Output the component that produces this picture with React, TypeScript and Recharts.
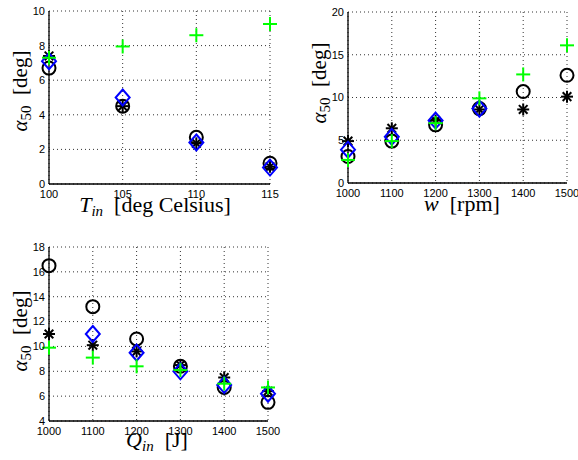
import React from 'react';
import { ScatterChart, Scatter, XAxis, YAxis, CartesianGrid, Label } from 'recharts';

// top left: inlet temperature
const tinValues = [100, 105, 110, 115];
const tinCircle = [6.7, 4.5, 2.7, 1.2];
const tinStar = [7.4, 4.5, 2.35, 1.0];
const tinDiamond = [7.1, 5.0, 2.4, 0.95];
const tinPlus = [7.3, 7.95, 8.6, 9.25];

// top right: engine speed
const wValues = [1000, 1100, 1200, 1300, 1400, 1500];
const wCircle = [3.1, 4.9, 6.8, 8.7, 10.7, 12.6];
const wStar = [4.9, 6.4, 7.3, 8.6, 8.6, 10.1];
const wDiamond = [3.9, 5.4, 7.3, 8.7, null, null];
const wPlus = [2.7, 4.9, 7.0, 9.9, 12.7, 16.1];

// bottom left: heat input
const qValues = [1000, 1100, 1200, 1300, 1400, 1500];
const qCircle = [16.5, 13.2, 10.6, 8.4, 6.7, 5.5];
const qStar = [11.0, 10.1, 9.6, 8.5, 7.5, 6.4];
const qDiamond = [null, 11.0, 9.5, 8.0, 6.9, 6.2];
const qPlus = [9.9, 9.1, 8.4, 8.1, 7.0, 6.7];

const toPoints = (xs: number[], ys: (number | null)[]) =>
  xs.map((x, i) => ({ x, y: ys[i] })).filter((p) => p.y !== null);

const OpenCircle = ({ cx, cy }: any) => (
  <circle cx={cx} cy={cy} r={6.5} fill="none" stroke="#000" strokeWidth={2} />
);

const Star = ({ cx, cy }: any) => {
  const r = 6;
  const d = r * 0.72;
  return (
    <g stroke="#000" strokeWidth={2}>
      <line x1={cx - r} y1={cy} x2={cx + r} y2={cy} />
      <line x1={cx} y1={cy - r} x2={cx} y2={cy + r} />
      <line x1={cx - d} y1={cy - d} x2={cx + d} y2={cy + d} />
      <line x1={cx - d} y1={cy + d} x2={cx + d} y2={cy - d} />
    </g>
  );
};

const Diamond = ({ cx, cy }: any) => (
  <path
    d={`M${cx},${cy - 8} L${cx + 7},${cy} L${cx},${cy + 8} L${cx - 7},${cy} Z`}
    fill="none"
    stroke="#0000ff"
    strokeWidth={2}
  />
);

const Plus = ({ cx, cy }: any) => (
  <g stroke="#00ff00" strokeWidth={2}>
    <line x1={cx - 7} y1={cy} x2={cx + 7} y2={cy} />
    <line x1={cx} y1={cy - 7} x2={cx} y2={cy + 7} />
  </g>
);

const serif = '"Liberation Serif", "Times New Roman", serif';
const tickStyle = { fill: '#000', fontSize: 11, fontFamily: '"Liberation Sans", Arial, sans-serif' };

const YTitle = ({ x, y }: { x: number; y: number }) => (
  <text x={x} y={y} transform={`rotate(-90 ${x} ${y})`} textAnchor="middle" fontFamily={serif} fontSize={21} fill="#000">
    <tspan fontStyle="italic">α</tspan>
    <tspan fontSize={15} dy={4}>50</tspan>
    <tspan dy={-4}>{'\u00a0\u00a0[deg]'}</tspan>
  </text>
);

const XTitle = ({ x, y, main, sub, rest }: { x: number; y: number; main: string; sub?: string; rest: string }) => (
  <text x={x} y={y} textAnchor="middle" fontFamily={serif} fontSize={22} fill="#000">
    <tspan fontStyle="italic">{main}</tspan>
    {sub ? (
      <tspan fontStyle="italic" fontSize={15} dy={4}>
        {sub}
      </tspan>
    ) : null}
    <tspan dy={sub ? -4 : 0}>{'\u00a0\u00a0' + rest}</tspan>
  </text>
);

interface PanelProps {
  left: number;
  top: number;
  width: number;
  height: number;
  marginTop: number;
  marginRight: number;
  yAxisWidth: number;
  xAxisHeight: number;
  xDomain: [number, number];
  xTicks: number[];
  yDomain: [number, number];
  yTicks: number[];
  xs: number[];
  circle: (number | null)[];
  star: (number | null)[];
  diamond: (number | null)[];
  plus: (number | null)[];
  xTitle: { x: number; y: number; main: string; sub?: string; rest: string };
  yTitle: { x: number; y: number };
}

const Panel = (p: PanelProps) => (
  <div style={{ position: 'absolute', left: p.left, top: p.top }}>
    <ScatterChart
      width={p.width}
      height={p.height}
      margin={{ top: p.marginTop, right: p.marginRight, bottom: 0, left: 0 }}
      style={{ overflow: 'visible' }}
    >
      <CartesianGrid stroke="#333" strokeDasharray="1 3" />
      <XAxis
        type="number"
        dataKey="x"
        domain={p.xDomain}
        ticks={p.xTicks}
        interval={0}
        height={p.xAxisHeight}
        axisLine={{ stroke: '#000', strokeWidth: 1.3 }}
        tickLine={false}
        tickSize={0}
        tickMargin={6}
        tick={tickStyle}
      >
        <Label content={() => <XTitle {...p.xTitle} />} />
      </XAxis>
      <YAxis
        type="number"
        dataKey="y"
        domain={p.yDomain}
        ticks={p.yTicks}
        interval={0}
        width={p.yAxisWidth}
        axisLine={{ stroke: '#000', strokeWidth: 1.3 }}
        tickLine={false}
        tickSize={0}
        tickMargin={4}
        tick={tickStyle}
      >
        <Label content={() => <YTitle {...p.yTitle} />} />
      </YAxis>
      <Scatter data={toPoints(p.xs, p.circle)} shape={(s: any) => <OpenCircle {...s} />} isAnimationActive={false} />
      <Scatter data={toPoints(p.xs, p.star)} shape={(s: any) => <Star {...s} />} isAnimationActive={false} />
      <Scatter data={toPoints(p.xs, p.diamond)} shape={(s: any) => <Diamond {...s} />} isAnimationActive={false} />
      <Scatter data={toPoints(p.xs, p.plus)} shape={(s: any) => <Plus {...s} />} isAnimationActive={false} />
    </ScatterChart>
  </div>
);

export default function App() {
  return (
    <div style={{ position: 'absolute', left: 0, top: 0, width: 578, height: 460, background: '#fff', overflow: 'hidden' }}>
      <Panel
        left={0}
        top={0}
        width={290}
        height={230}
        marginTop={11}
        marginRight={20}
        yAxisWidth={49}
        xAxisHeight={46}
        xDomain={[100, 115]}
        xTicks={tinValues}
        yDomain={[0, 10]}
        yTicks={[0, 2, 4, 6, 8, 10]}
        xs={tinValues}
        circle={tinCircle}
        star={tinStar}
        diamond={tinDiamond}
        plus={tinPlus}
        xTitle={{ x: 155, y: 212, main: 'T', sub: 'in', rest: '[deg Celsius]' }}
        yTitle={{ x: 27, y: 91 }}
      />
      <Panel
        left={290}
        top={0}
        width={288}
        height={230}
        marginTop={12}
        marginRight={11}
        yAxisWidth={58}
        xAxisHeight={47}
        xDomain={[1000, 1500]}
        xTicks={wValues}
        yDomain={[0, 20]}
        yTicks={[0, 5, 10, 15, 20]}
        xs={wValues}
        circle={wCircle}
        star={wStar}
        diamond={wDiamond}
        plus={wPlus}
        xTitle={{ x: 172, y: 211, main: 'w', rest: '[rpm]' }}
        yTitle={{ x: 36, y: 83 }}
      />
      <Panel
        left={0}
        top={230}
        width={290}
        height={230}
        marginTop={17}
        marginRight={22}
        yAxisWidth={49}
        xAxisHeight={39}
        xDomain={[1000, 1500]}
        xTicks={qValues}
        yDomain={[4, 18]}
        yTicks={[4, 6, 8, 10, 12, 14, 16, 18]}
        xs={qValues}
        circle={qCircle}
        star={qStar}
        diamond={qDiamond}
        plus={qPlus}
        xTitle={{ x: 157, y: 217, main: 'Q', sub: 'in', rest: '[J]' }}
        yTitle={{ x: 27, y: 101 }}
      />
    </div>
  );
}
